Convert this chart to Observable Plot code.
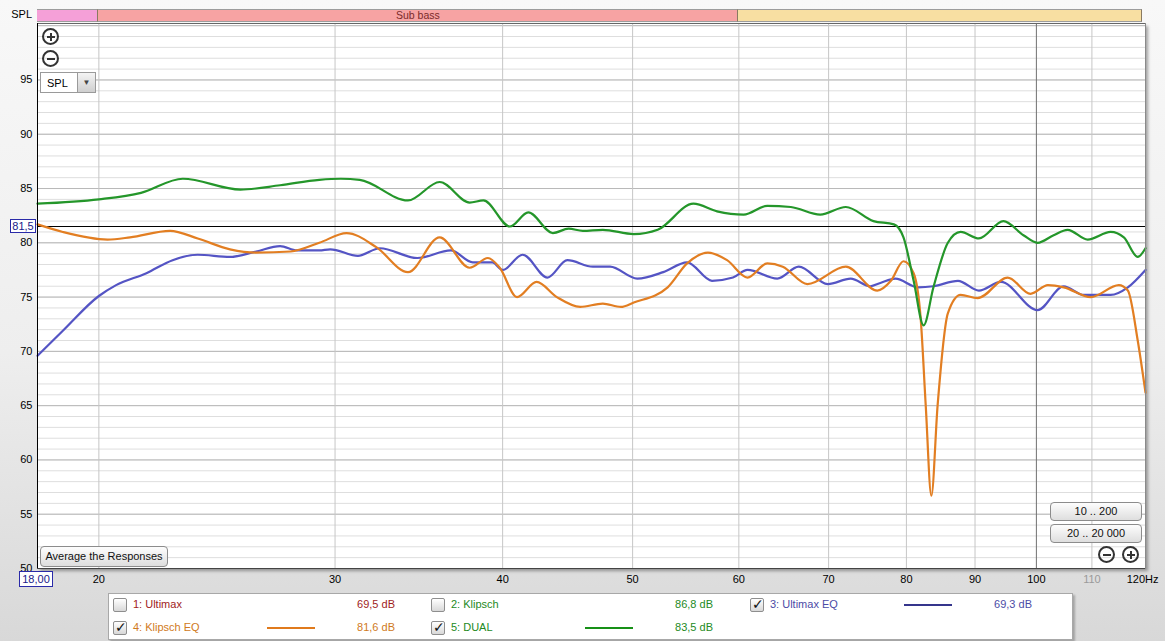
<!DOCTYPE html>
<html><head><meta charset="utf-8">
<script src="https://cdn.jsdelivr.net/npm/d3@7"></script>
<script src="https://cdn.jsdelivr.net/npm/@observablehq/plot@0.6"></script>
<style>
body{margin:0;background:linear-gradient(#f8f8f8 0%,#eeeeee 55%,#d8d8d8 100%);font-family:"Liberation Sans",Arial,sans-serif;}
#wrap{position:relative;width:1165px;height:641px;overflow:hidden}
#wrap svg{position:relative}
.ov{position:absolute;font-size:11px;white-space:nowrap;line-height:1}
.btn{position:absolute;font-size:11px;border:1px solid #8c8c8c;border-radius:4px;background:linear-gradient(#fdfdfd,#dedede);text-align:center;box-sizing:border-box;color:#111}
.zoomic{position:absolute;width:17px;height:17px;border:2px solid #333;border-radius:50%;box-sizing:border-box}
.zoomic .h{position:absolute;left:2.5px;top:5.5px;width:8px;height:2px;background:#333}
.zoomic .v{position:absolute;left:5.5px;top:2.5px;width:2px;height:8px;background:#333}
.cb{position:absolute;width:14px;height:14px;border:1px solid #8e8e8e;border-radius:2px;background:linear-gradient(#ffffff,#d8d8d8);box-sizing:border-box}
.cb span{position:absolute;left:1px;top:-3px;font-size:14px;font-weight:bold;color:#111;font-family:"DejaVu Sans",sans-serif}
</style></head>
<body><div id="wrap"></div>
<script>
// ---- data ----
const dualFreq = [18.0,20.0,21.5,23.1,25.5,27.3,29.2,30.3,31.3,34.0,35.9,37.8,38.7,40.5,41.8,43.6,44.8,45.9,47.5,50.1,52.2,55.5,57.8,60.5,63.0,65.6,69.0,72.1,75.6,78.3,79.6,81.0,82.4,83.8,85.9,87.8,90.6,94.5,97.8,100.2,103.0,105.5,109.2,113.6,116.2,119.0,120.6];
const dualDb   = [83.6,84.0,84.6,85.9,84.9,85.3,85.8,85.9,85.8,83.9,85.6,83.7,83.9,81.5,82.8,80.9,81.3,81.1,81.2,80.8,81.2,83.6,82.9,82.6,83.4,83.3,82.6,83.3,82.0,81.7,80.5,76.5,72.4,75.9,80.0,81.0,80.4,82.0,80.7,80.0,80.7,81.2,80.3,81.0,80.5,78.7,79.5];

const klipEqFreq = [18.0,18.8,20.3,21.1,22.6,23.7,25.05,26.2,27.8,29.2,30.6,32.2,34.0,35.9,37.8,39.0,39.8,41.0,42.4,43.9,45.7,47.5,49.0,50.1,53.1,54.9,56.9,58.8,60.9,63.0,64.7,67.5,72.1,76.1,77.9,79.6,81.0,82.0,82.7,83.5,84.4,85.9,87.8,90.4,95.2,99.0,102.0,104.8,109.8,115.2,117.0,119.0,120.6];
const klipEqDb   = [81.7,81.0,80.3,80.5,81.1,80.4,79.4,79.1,79.2,80.0,80.9,79.6,77.3,80.5,77.7,78.6,77.7,75.0,76.4,75.0,74.1,74.4,74.1,74.5,75.9,78.1,79.1,78.4,76.8,78.1,77.8,76.2,77.8,75.6,76.5,78.3,77.2,72.9,65.0,56.7,65.0,73.5,75.2,74.9,76.8,75.3,76.1,75.9,75.0,76.1,75.6,71.0,66.2];

const ultEqFreq = [18.0,18.8,20.0,20.6,21.7,22.7,23.7,25.05,26.2,27.3,28.1,29.2,29.75,31.2,32.4,34.55,36.6,38.0,39.3,40.0,41.4,43.2,44.7,46.7,48.1,50.4,52.7,54.9,57.3,59.4,60.9,64.1,66.5,69.9,72.7,75.2,76.5,78.5,81.6,83.8,87.4,90.6,94.1,100.2,104.8,108.5,113.6,117.0,120.6];
const ultEqDb   = [69.6,71.9,75.1,76.1,77.2,78.4,78.9,78.7,79.2,79.7,79.3,79.3,79.4,78.8,79.5,78.6,79.3,78.2,78.2,77.5,78.9,76.8,78.4,77.8,77.8,76.7,77.3,78.2,76.5,76.8,77.5,76.7,77.8,76.2,76.7,76.0,76.3,76.7,75.9,76.0,76.5,75.6,76.4,73.8,76.0,75.2,75.2,75.9,77.5];

const referenceLevel = 81.5;
const yTicks = [50,55,60,65,70,75,80,85,90,95];
const xTicks = [20,30,40,50,60,70,80,90,100,120];
const xTickFaded = [110];
const xGrid = [20,30,40,50,60,70,80,90,110];
const xGridDecade = [100];

const bandFrom   = [18, 20, 60];
const bandTo     = [20, 60, 120];
const bandLabels = ["", "Sub bass", ""];
const bandColors = ["#f5a0d8", "#f7a3a3", "#f8dfa2"];

const legendNames   = ["1: Ultimax","2: Klipsch","3: Ultimax EQ","4: Klipsch EQ","5: DUAL"];
const legendValues  = ["69,5 dB","86,8 dB","69,3 dB","81,6 dB","83,5 dB"];
const legendChecked = [false,false,true,true,true];
const legendText    = ["#a01c1c","#238a23","#4b4ba6","#d07a22","#238a23"];
const legendLine    = [null,null,"#35358c","#e07a1c","#179017"];

const colDual = "#24962a", colKlipEq = "#e27e22", colUltEq = "#5454c4";

// ---- build tables ----
const toRows = (f, d) => f.map((v, i) => ({f: v, db: d[i]}));
const dual = toRows(dualFreq, dualDb);
const klipEq = toRows(klipEqFreq, klipEqDb);
const ultEq = toRows(ultEqFreq, ultEqDb);

const W = 1165, H = 641;
const plot = Plot.plot({
  width: W, height: H,
  marginLeft: 37, marginRight: 20, marginTop: 23, marginBottom: 73,
  x: {type: "log", domain: [18, 120.6]},
  y: {domain: [50, 100.2]},
  style: {background: "transparent", fontFamily: "Liberation Sans, Arial, sans-serif", fontSize: "11px", color: "#000"},
  marks: [
    Plot.frame({fill: "white", stroke: "none"}),
    Plot.gridY(d3.range(50, 101), {stroke: "#dedede", strokeOpacity: 1}),
    Plot.gridY(d3.range(50, 101, 5), {stroke: "#b8b8b8", strokeOpacity: 1}),
    Plot.gridX(xGrid, {stroke: "#c6c6c6", strokeOpacity: 1}),
    Plot.gridX(xGridDecade, {stroke: "#707070", strokeOpacity: 1}),
    Plot.ruleY([referenceLevel], {stroke: "#000", strokeWidth: 1.2}),
    Plot.line(ultEq, {x: "f", y: "db", stroke: colUltEq, strokeWidth: 2.2, curve: "monotone-x"}),
    Plot.line(klipEq, {x: "f", y: "db", stroke: colKlipEq, strokeWidth: 2.2, curve: "monotone-x"}),
    Plot.line(dual, {x: "f", y: "db", stroke: colDual, strokeWidth: 2.2, curve: "monotone-x"}),
    Plot.axisY(yTicks, {tickSize: 0, tickPadding: 5, label: null, fontSize: 11}),
    Plot.axisX(xTicks, {tickSize: 0, tickPadding: 7, label: null, fontSize: 11, tickFormat: d => d === 120 ? "120Hz" : String(d)}),
    Plot.axisX(xTickFaded, {tickSize: 0, tickPadding: 7, label: null, fontSize: 11, fill: "#9a9a9a", tickFormat: d => String(d)}),
    Plot.frame({stroke: "#8a8a8a"}),
    Plot.ruleY([100.2], {stroke: "#666"}),
    Plot.ruleX([18], {stroke: "#000"}),
    Plot.ruleY([50], {stroke: "#444"})
  ]
});

const wrap = document.getElementById("wrap");
const sx = plot.scale("x"), sy = plot.scale("y");
const X0 = sx.apply(18), X1 = sx.apply(120.6), Y0 = sy.apply(100.2), Y1 = sy.apply(50);

function el(tag, cls, style, text) {
  const e = document.createElement(tag);
  if (cls) e.className = cls;
  Object.assign(e.style, style || {});
  if (text != null) e.textContent = text;
  wrap.appendChild(e);
  return e;
}
// drop shadow under the plot frame
el("div", null, {position: "absolute", left: X0 + "px", top: Y0 + "px", width: (X1 - X0) + "px", height: (Y1 - Y0) + "px", background: "#fff", boxShadow: "3px 3px 3px rgba(0,0,0,0.35)"});
wrap.appendChild(plot);

// frequency band strip
el("div", "ov", {left: "0px", top: "9px", width: "32px", textAlign: "right"}, "SPL");
bandFrom.forEach((f0, i) => {
  const a = sx.apply(f0), b = sx.apply(bandTo[i]);
  el("div", "ov", {left: a + "px", top: "9px", width: (b - a) + "px", height: "13px", background: bandColors[i],
    borderTop: "1px solid #9c9c9c", borderBottom: "1px solid #9c9c9c", borderRight: "1px solid #8a7a60",
    boxSizing: "border-box", textAlign: "center", fontSize: "10.5px", lineHeight: "11px", color: "#7a2a2a"}, bandLabels[i]);
});

// reference level and start-frequency boxes
el("div", "ov", {left: "10px", top: (sy.apply(referenceLevel) - 7) + "px", width: "26px", height: "14px", border: "1px solid #2a2aa8",
  background: "#fff", color: "#1a1a8a", boxSizing: "border-box", textAlign: "center", lineHeight: "12px"}, "81,5");
el("div", "ov", {left: (X0 - 18) + "px", top: (Y1 + 3) + "px", width: "34px", height: "16px", border: "1px solid #2a2aa8",
  background: "#fff", color: "#1a1a8a", boxSizing: "border-box", textAlign: "center", lineHeight: "14px"}, "18,00");

// in-plot controls
function zoomIcon(x, y, plus) {
  const z = el("div", "zoomic", {left: x + "px", top: y + "px"});
  const h = document.createElement("div"); h.className = "h"; z.appendChild(h);
  if (plus) { const v = document.createElement("div"); v.className = "v"; z.appendChild(v); }
}
zoomIcon(42, 28, true);
zoomIcon(42, 50, false);
const dd = el("div", "ov", {left: "40px", top: "72px", width: "56px", height: "21px", border: "1px solid #9a9a9a", background: "#fff", boxSizing: "border-box"});
const ddt = document.createElement("div"); ddt.textContent = "SPL"; Object.assign(ddt.style, {position: "absolute", left: "6px", top: "5px", fontSize: "11px"}); dd.appendChild(ddt);
const dda = document.createElement("div"); dda.textContent = "▼"; Object.assign(dda.style, {position: "absolute", right: "0px", top: "0px", width: "17px", height: "19px", background: "linear-gradient(#f4f4f4,#cfcfcf)", borderLeft: "1px solid #9a9a9a", fontSize: "8px", textAlign: "center", lineHeight: "19px", color: "#444"}); dd.appendChild(dda);

el("div", "btn", {left: "40px", top: "546px", width: "128px", height: "21px", lineHeight: "19px"}, "Average the Responses");
el("div", "btn", {left: "1050px", top: "502px", width: "92px", height: "19px", lineHeight: "17px"}, "10 .. 200");
el("div", "btn", {left: "1050px", top: "524px", width: "92px", height: "19px", lineHeight: "17px"}, "20 .. 20 000");
zoomIcon(1098, 546, false);
zoomIcon(1122, 546, true);

// legend panel
el("div", null, {position: "absolute", left: "108px", top: "593px", width: "965px", height: "47px", background: "#fff", border: "1px solid #a8a8a8", boxSizing: "border-box", boxShadow: "2px 2px 2px rgba(0,0,0,0.25)"});
const colX = [113, 431, 750];
const rowY = [605, 628];
const slot = [[0,0],[0,1],[0,2],[1,0],[1,1]];
legendNames.forEach((name, i) => {
  const [r, c] = slot[i];
  const x = colX[c], y = rowY[r];
  const cb = el("div", "cb", {left: x + "px", top: (y - 7) + "px"});
  if (legendChecked[i]) { const s = document.createElement("span"); s.textContent = "✓"; cb.appendChild(s); }
  el("div", "ov", {left: (x + 20) + "px", top: (y - 6) + "px", color: legendText[i]}, name);
  if (legendLine[i]) el("div", null, {position: "absolute", left: (x + 154) + "px", top: (y - 1) + "px", width: "48px", height: "2px", background: legendLine[i]});
  el("div", "ov", {left: (x + 244) + "px", top: (y - 6) + "px", width: "38px", textAlign: "right", color: legendText[i]}, legendValues[i]);
});
</script>
</body></html>
